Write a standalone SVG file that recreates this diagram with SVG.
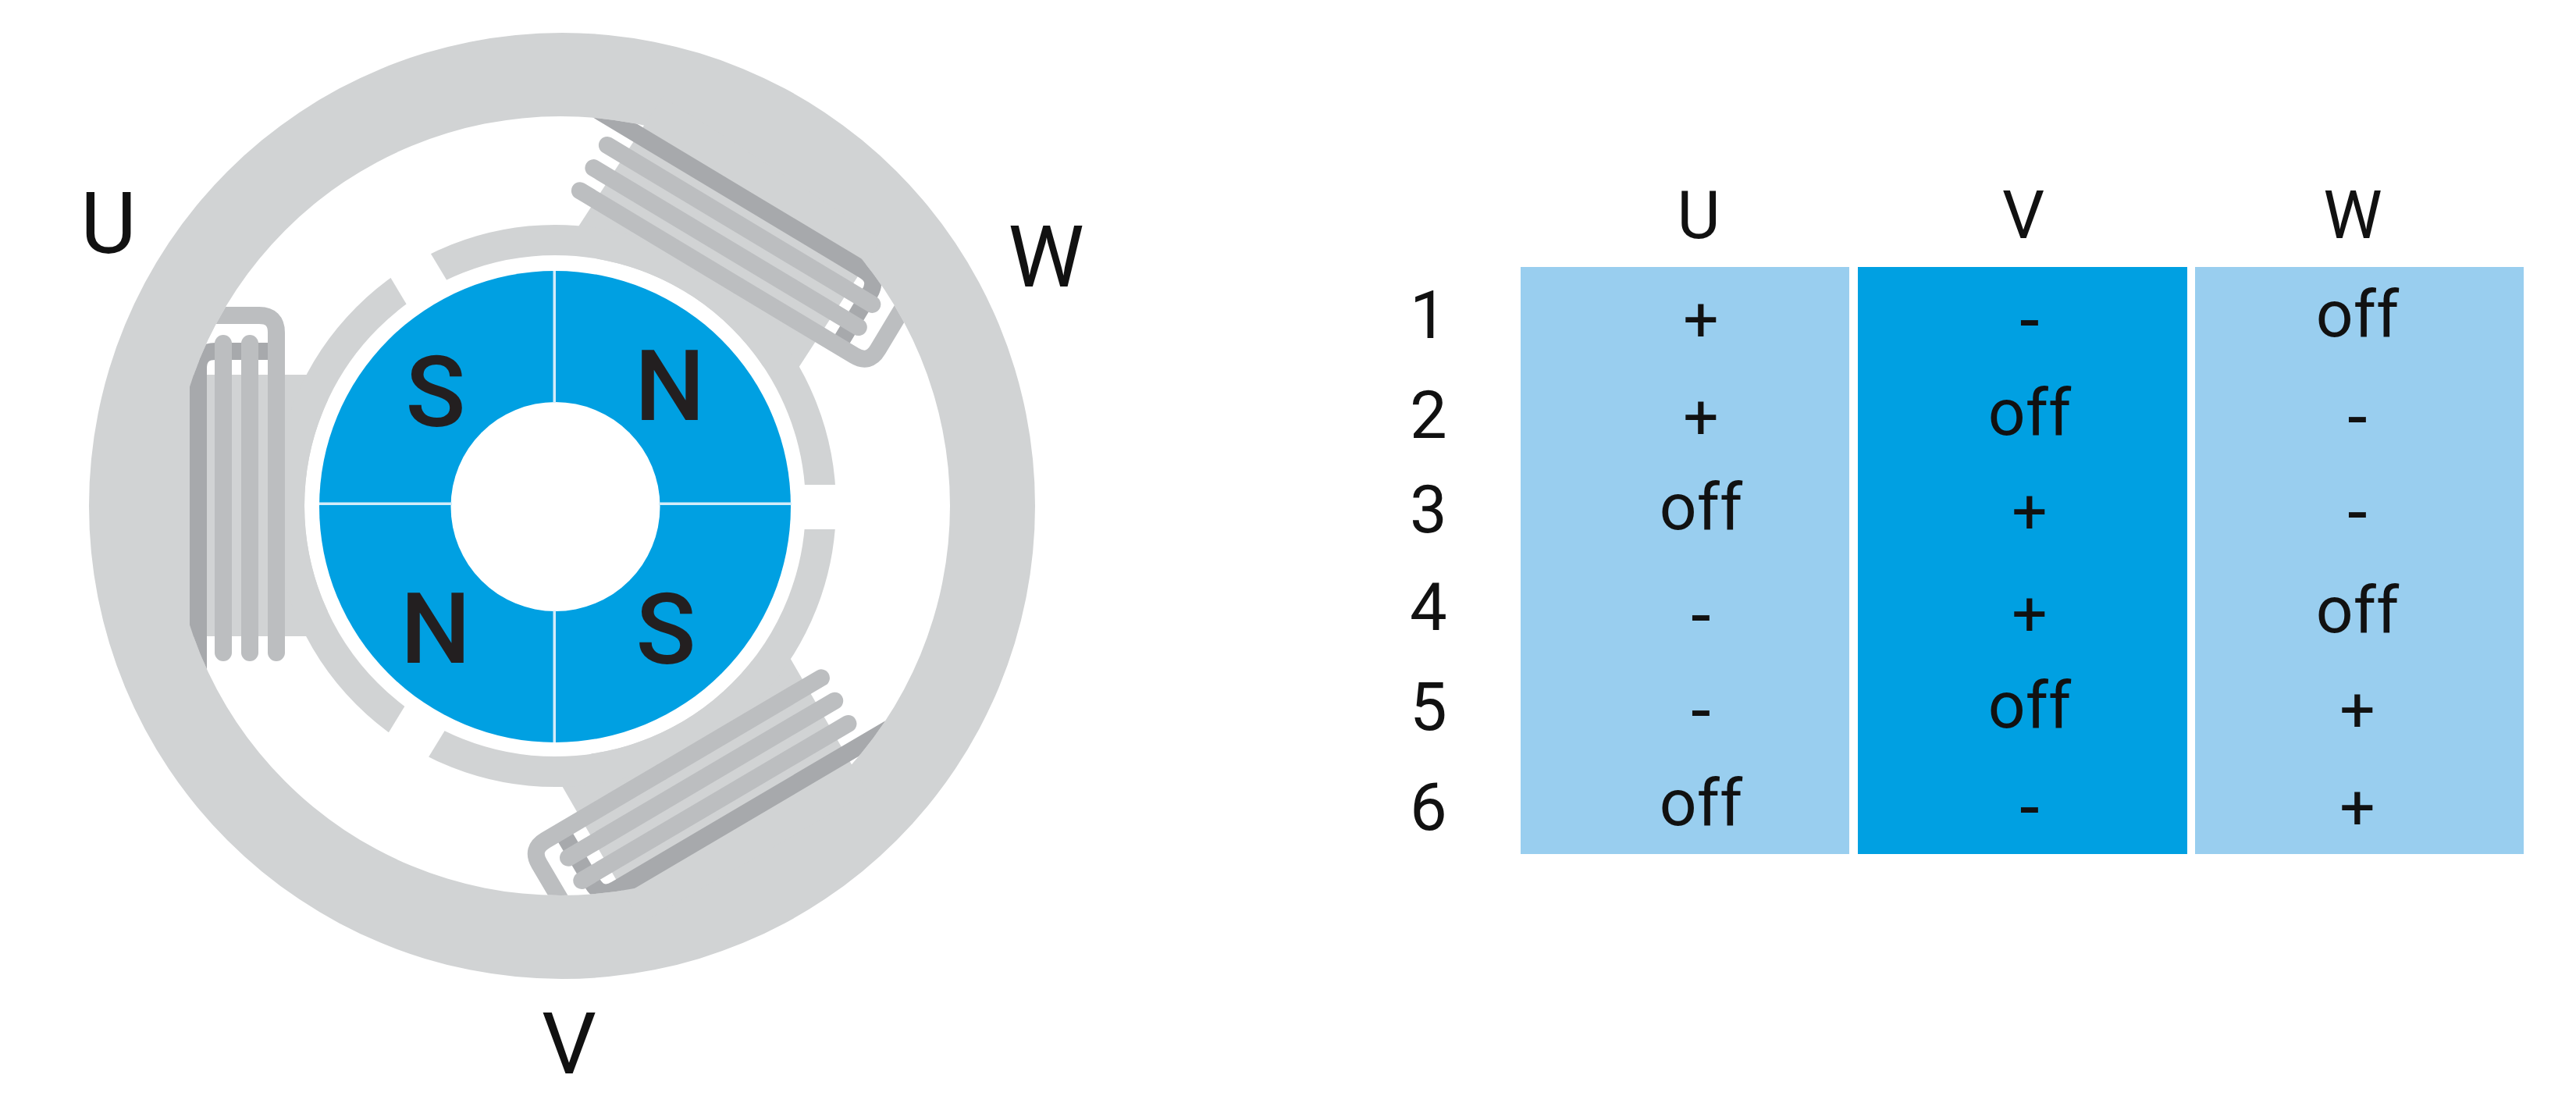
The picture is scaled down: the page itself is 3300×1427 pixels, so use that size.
<svg xmlns="http://www.w3.org/2000/svg" xmlns:xlink="http://www.w3.org/1999/xlink" width="3300" height="1427" viewBox="0 0 3300 1427">
<style>
text{font-family:Roboto,"Liberation Sans",sans-serif;fill:#111;text-anchor:middle;font-weight:400}
.big{font-size:110px}.h{font-size:85px}.c{font-size:84px}.p{font-size:80px}.m{font-size:92px}
.pole{font-size:127px;font-weight:500;fill:#231f20}
.ring{fill:#d1d3d4}
.lite{fill:none;stroke:#bcbec0;stroke-width:22;stroke-linecap:round}
.band{fill:none;stroke:#bcbec0;stroke-width:22}
.dark{fill:none;stroke:#a7a9ac;stroke-width:22}
.div{fill:#d3ecf9}
</style>
<defs>
<clipPath id="inner"><circle cx="718" cy="648" r="499"/></clipPath>
<mask id="gaps" maskUnits="userSpaceOnUse" x="0" y="0" width="1500" height="1427">
<rect x="0" y="0" width="1500" height="1427" fill="#fff"/>
<rect x="711" y="621" width="400" height="57" fill="#000"/>
<rect x="711" y="618" width="400" height="60" fill="#000" transform="rotate(-121 711 648)"/>
<rect x="711" y="618" width="400" height="60" fill="#000" transform="rotate(121.5 711 648)"/>
</mask>
<g id="coil">
<path class="dark" d="M254,890V472Q254,450 276,450H345"/>
<path class="lite" d="M286,440V836"/>
<path class="lite" d="M320,440V836"/>
<path class="lite" d="M354,836V600"/>
<path class="band" d="M354,600V426Q354,404 332,404H150"/>
</g>
<rect id="tooth" class="ring" x="200" y="480" width="220" height="335"/>
</defs>
<g id="stator">
<path class="ring" fill-rule="evenodd" d="M114,648a606,606 0 1,0 1212,0a606,606 0 1,0 -1212,0ZM219,648a499,499 0 1,0 998,0a499,499 0 1,0 -998,0Z"/>
<use href="#tooth"/>
<use href="#tooth" transform="translate(1641.5,399.9) rotate(123)"/>
<use href="#tooth" transform="translate(505.8,1595.8) rotate(-120)"/>
<circle cx="711" cy="648" r="321" fill="#fff"/>
<circle cx="711" cy="648" r="340.5" fill="none" stroke="#d1d3d4" stroke-width="39" mask="url(#gaps)"/>
</g>
<g id="coil-u" clip-path="url(#inner)"><use href="#coil"/></g>
<g id="coil-w" clip-path="url(#inner)"><use href="#coil" transform="translate(1641.8,371.4) rotate(121)"/></g>
<g id="coil-v" clip-path="url(#inner)"><use href="#coil" transform="translate(511.3,1597.7) rotate(-120.5)"/></g>
<g id="rotor">
<circle cx="711" cy="649" r="302" fill="#00a0e2"/>
<circle cx="711.5" cy="649" r="134" fill="#fff"/>
<rect class="div" x="708.5" y="347" width="3.5" height="169"/>
<rect class="div" x="708.5" y="782" width="3.5" height="169"/>
<rect class="div" x="409" y="643.5" width="170" height="3.5"/>
<rect class="div" x="844" y="643.5" width="170" height="3.5"/>
<text class="pole" x="558" y="546">S</text>
<text class="pole" x="858" y="538">N</text>
<text class="pole" x="558" y="849">N</text>
<text class="pole" x="853" y="850">S</text>
</g>
<g id="phase-labels">
<text class="big" x="139" y="324">U</text>
<text class="big" x="1340" y="367">W</text>
<text class="big" x="729" y="1375">V</text>
</g>
<g id="table">
<rect x="1948" y="342" width="421" height="752" fill="#99ceef"/>
<rect x="2380" y="342" width="422" height="752" fill="#00a0e2"/>
<rect x="2812" y="342" width="421" height="752" fill="#99ceef"/>
<text class="h" x="2176" y="305">U</text><text class="h" x="2592" y="305">V</text><text class="h" x="3014" y="305">W</text>
<text class="h" x="1830" y="433">1</text><text class="h" x="1830" y="561">2</text><text class="h" x="1830" y="682">3</text><text class="h" x="1830" y="807">4</text><text class="h" x="1830" y="935">5</text><text class="h" x="1830" y="1063">6</text>
<text class="p" x="2179" y="437">+</text><text class="m" x="2600" y="442">-</text><text class="c" x="3020" y="431">off</text>
<text class="p" x="2179" y="562">+</text><text class="c" x="2600" y="557">off</text><text class="m" x="3020" y="566">-</text>
<text class="c" x="2179" y="678">off</text><text class="p" x="2600" y="683">+</text><text class="m" x="3020" y="688">-</text>
<text class="m" x="2179" y="820">-</text><text class="p" x="2600" y="814">+</text><text class="c" x="3020" y="810">off</text>
<text class="m" x="2179" y="942">-</text><text class="c" x="2600" y="932">off</text><text class="p" x="3020" y="937">+</text>
<text class="c" x="2179" y="1057">off</text><text class="m" x="2600" y="1066">-</text><text class="p" x="3020" y="1062">+</text>
</g>
</svg>
